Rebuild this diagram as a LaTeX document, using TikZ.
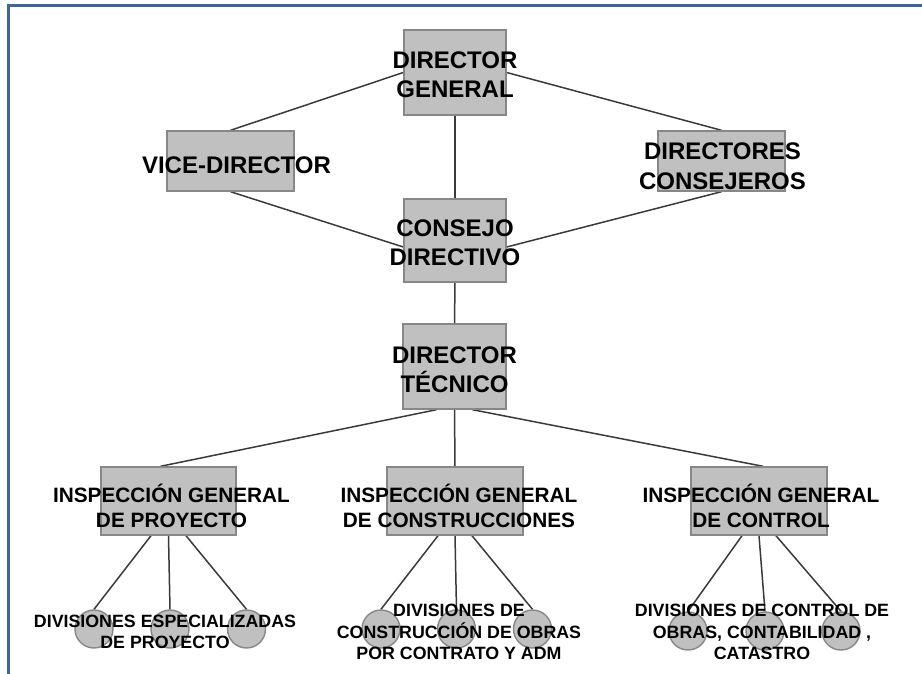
\documentclass[tikz,border=0pt]{standalone}
\usepackage{fontspec}
\setmainfont{Liberation Sans}
\usetikzlibrary{backgrounds,calc}
\definecolor{boxfill}{HTML}{C0C0C0}
\definecolor{boxline}{HTML}{878787}
\definecolor{conn}{HTML}{3A3A3A}
\definecolor{frameblue}{HTML}{3E6698}
\tikzset{
  box/.style={rectangle, fill=boxfill, draw=boxline, line width=1.4pt, inner sep=0pt},
  circ/.style={circle, fill=boxfill, draw=boxline, line width=1.4pt, inner sep=0pt, minimum size=38pt},
  big/.style={font=\bfseries\fontsize{24}{29.5}\selectfont, align=center, inner sep=0pt, text=black},
  mid/.style={font=\bfseries\fontsize{20.8}{25}\selectfont, align=center, inner sep=0pt, text=black},
  small/.style={font=\bfseries\fontsize{17.8}{21.5}\selectfont, align=center, inner sep=0pt, text=black},
  conline/.style={draw=conn, line width=1.5pt},
  framel/.style={draw=frameblue, line width=3pt}
}
\begin{document}
\begin{tikzpicture}[x=1pt,y=-1pt]
\useasboundingbox (0,0) rectangle (922,674);
\draw[framel] (7,6) -- (922,6);
\draw[framel] (8.5,6) -- (8.5,674);

% boxes
\node[box, minimum width=102pt, minimum height=85pt,
  label={[big, yshift=-2pt]center:DIRECTOR\\GENERAL}] (dg) at (455,72.5) {};
\node[box, minimum width=127pt, minimum height=60pt,
  label={[big, xshift=6pt, yshift=-4pt]center:VICE-DIRECTOR}] (vd) at (230.5,161) {};
\node[box, minimum width=127pt, minimum height=60pt,
  label={[big, xshift=1pt, yshift=-5pt]center:DIRECTORES\\CONSEJEROS}] (dc) at (721.5,161) {};
\node[box, minimum width=102pt, minimum height=83pt,
  label={[big, yshift=-2pt]center:CONSEJO\\DIRECTIVO}] (cd) at (455,240.5) {};
\node[box, minimum width=103pt, minimum height=85pt,
  label={[big, yshift=-3pt]center:DIRECTOR\\TÉCNICO}] (dt) at (454.5,366.5) {};
\node[box, minimum width=135pt, minimum height=68pt,
  label={[mid, xshift=3pt, yshift=-5pt]center:INSPECCIÓN GENERAL\\DE PROYECTO}] (igp) at (168.5,501) {};
\node[box, minimum width=136pt, minimum height=68pt,
  label={[mid, xshift=4pt, yshift=-5pt]center:INSPECCIÓN GENERAL\\DE CONSTRUCCIONES}] (igc) at (455,501) {};
\node[box, minimum width=136pt, minimum height=68pt,
  label={[mid, xshift=2pt, yshift=-5pt]center:INSPECCIÓN GENERAL\\DE CONTROL}] (igk) at (759,501) {};

% circles
\node[circ] (p1) at (94,629) {};
\node[circ] (p2) at (170,629) {};
\node[circ] (p3) at (246.5,629) {};
\node[circ] (c1) at (381,629) {};
\node[circ] (c2) at (456.5,629) {};
\node[circ] (c3) at (532.5,629) {};
\node[circ] (k1) at (688,631) {};
\node[circ] (k2) at (765,631) {};
\node[circ] (k3) at (841,631) {};

% connectors
\begin{scope}[on background layer]
\draw[conline] (dg.west) -- (vd.north);
\draw[conline] (dg.east) -- (dc.north);
\draw[conline] (dg.south) -- (cd.north);
\draw[conline] (vd.south) -- ($(cd.west)+(0,6.5)$);
\draw[conline] (dc.south) -- ($(cd.east)+(0,6.5)$);
\draw[conline] (cd.south) -- (dt.north);
\draw[conline] ($(dt.south)+(-18,0)$) -- ($(igp.north)+(-8,0)$);
\draw[conline] (dt.south) -- (igc.north);
\draw[conline] ($(dt.south)+(18,0)$) -- ($(igk.north)+(4,0)$);
\draw[conline] ($(igp.south)+(-17.5,0)$) -- (p1.north);
\draw[conline] (igp.south) -- (p2.north);
\draw[conline] ($(igp.south)+(17.5,0)$) -- (p3.north);
\draw[conline] ($(igc.south)+(-17,0)$) -- (c1.north);
\draw[conline] (igc.south) -- (c2.north);
\draw[conline] ($(igc.south)+(17,0)$) -- (c3.north);
\draw[conline] ($(igk.south)+(-17,0)$) -- (k1.north);
\draw[conline] (igk.south) -- (k2.north);
\draw[conline] ($(igk.south)+(17,0)$) -- (k3.north);
\end{scope}

% division texts
\node[small] (tp) at (165,632) {DIVISIONES ESPECIALIZADAS\\DE PROYECTO};
\node[small] (tc) at (459,632) {DIVISIONES DE\\CONSTRUCCIÓN DE OBRAS\\POR CONTRATO Y ADM};
\node[small] (tk) at (762,632) {DIVISIONES DE CONTROL DE\\OBRAS, CONTABILIDAD ,\\CATASTRO};
\end{tikzpicture}
\end{document}
